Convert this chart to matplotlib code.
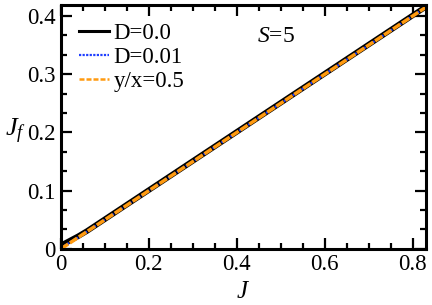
import matplotlib
matplotlib.use("Agg")
import matplotlib.pyplot as plt
from matplotlib.ticker import MultipleLocator
from matplotlib.lines import Line2D

plt.rcParams['font.family'] = ['Liberation Serif', 'DejaVu Serif']
plt.rcParams['mathtext.fontset'] = 'custom'
plt.rcParams['mathtext.rm'] = 'Liberation Serif'
plt.rcParams['mathtext.it'] = 'Liberation Serif:italic'

# data
J_d0 = [0.0, 0.01, 0.02, 0.04, 0.06, 0.1, 0.2, 0.3, 0.4, 0.5, 0.6, 0.7, 0.8, 0.84]
Jf_d0 = [0.006, 0.010, 0.014, 0.022, 0.031, 0.051, 0.101, 0.151, 0.201, 0.251, 0.301, 0.351, 0.401, 0.421]
J_d01 = [0.0, 0.01, 0.02, 0.04, 0.06, 0.1, 0.2, 0.3, 0.4, 0.5, 0.6, 0.7, 0.8, 0.84]
Jf_d01 = [0.002, 0.006, 0.011, 0.020, 0.030, 0.050, 0.100, 0.150, 0.200, 0.250, 0.300, 0.350, 0.400, 0.420]
J_ref = [0.0, 0.84]
Jf_ref = [0.0, 0.42]
labels = ['D=0.0', 'D=0.01', 'y/x=0.5']

fig = plt.figure(figsize=(4.32, 3.05), dpi=100)
ax = fig.add_axes([0.141, 0.184, 0.845, 0.8])

ax.plot(J_d0, Jf_d0, color='black', lw=4.0, solid_capstyle='butt')
ax.plot(J_d01, Jf_d01, color='#1f3fff', lw=1.6, ls=(0, (1, 0.6)))
ax.plot(J_ref, Jf_ref, color='#ff9a10', lw=2.5, ls=(0, (2.5, 0.6)))

handles = [Line2D([], [], color='black', lw=2.2),
           Line2D([], [], color='#1f3fff', lw=1.6, ls=(0, (1, 0.6))),
           Line2D([], [], color='#ff9a10', lw=1.8, ls=(0, (2, 0.8)))]

ax.set_xlim(0, 0.83)
ax.set_ylim(0, 0.419)
ax.xaxis.set_minor_locator(MultipleLocator(0.05))
ax.yaxis.set_minor_locator(MultipleLocator(0.1/3))
ax.set_xticks([0, 0.2, 0.4, 0.6, 0.8])
ax.set_xticklabels(['0', '0.2', '0.4', '0.6', '0.8'])
ax.set_yticks([0, 0.1, 0.2, 0.3, 0.4])
ax.set_yticklabels(['0', '0.1', '0.2', '0.3', '0.4'])

ax.tick_params(which='both', direction='in', top=True, right=True, width=1.6, labelsize=16.5)
ax.tick_params(which='major', length=8, pad=4)
ax.tick_params(which='minor', length=4)
for s in ax.spines.values():
    s.set_linewidth(2.2)

ax.set_xlabel('$J$', fontsize=18, labelpad=4)
ax.set_ylabel('$J_f$', fontsize=19, rotation=0, labelpad=0)
ax.yaxis.set_label_coords(-0.125, 0.42)

ax.text(0.588, 0.87, '$S$=5', transform=ax.transAxes, fontsize=17, ha='center', va='center')

leg = ax.legend(handles, labels, loc='upper left', frameon=False, fontsize=16.5, handlelength=1.3,
                handletextpad=0.2, labelspacing=0.12, borderaxespad=0.4,
                bbox_to_anchor=(0.0, 1.0))

fig.savefig('out.png', dpi=100)
